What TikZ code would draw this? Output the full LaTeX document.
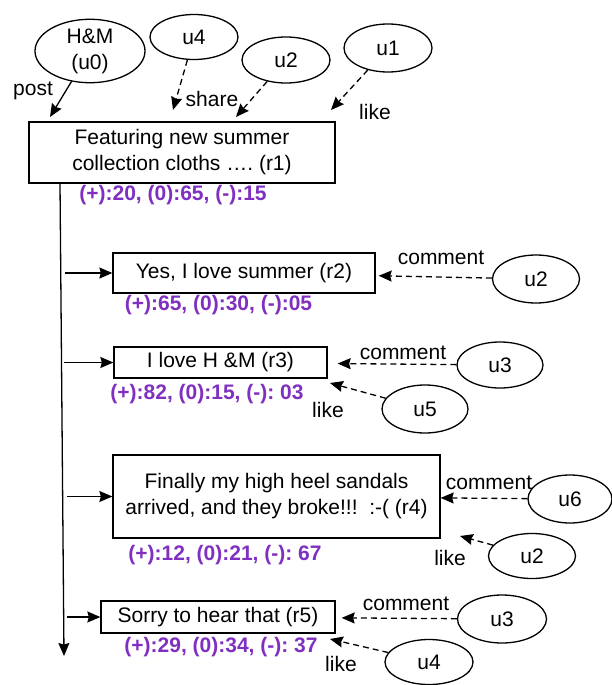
\documentclass[tikz,border=0pt]{standalone}
\usepackage{fontspec}
\setmainfont{Liberation Sans}
\usetikzlibrary{shapes.geometric,arrows.meta,calc}
\definecolor{scorepurple}{RGB}{128,48,192}
\begin{document}
\frenchspacing
\begin{tikzpicture}[x=1pt,y=-1pt,
  every node/.style={font=\fontsize{21}{26}\selectfont\frenchspacing, inner sep=0pt},
  userell/.style={draw, ellipse, line width=1.3pt, align=center},
  postbox/.style={draw, rectangle, line width=1.3pt, align=center},
  score/.style={text=scorepurple, font=\fontsize{21}{26}\selectfont\bfseries\frenchspacing},
  solidarrow/.style={line width=1.3pt, -{Stealth[length=13pt,width=11pt,inset=1.5pt]}},
  dasharrow/.style={solidarrow, dash pattern=on 6pt off 4pt},
]
\useasboundingbox (0,0) rectangle (611,685);

% users at top
\node[userell, minimum width=110pt, minimum height=62pt] (u0) at (90,51) {H\&M\\(u0)};
\node[userell, minimum width=88pt, minimum height=45pt] (u4t) at (194,37) {u4};
\node[userell, minimum width=88pt, minimum height=46pt] (u2t) at (286,60) {u2};
\node[userell, minimum width=88pt, minimum height=48pt] (u1) at (388,48) {u1};

% posts
\node[postbox, minimum width=306pt, minimum height=61pt] (r1) at (182,152.5) {Featuring new summer\\collection cloths …. (r1)};
\node[postbox, minimum width=262pt, minimum height=40pt] (r2) at (244,273) {Yes, I love summer (r2)};
\node[postbox, minimum width=213pt, minimum height=31pt] (r3) at (220.5,362.5) {I love H \&M (r3)};
\node[postbox, minimum width=327pt, minimum height=83pt] (r4) at (276.5,496.5) {Finally my high heel sandals\\arrived, and they broke!!!\ \ :-( (r4)};
\node[postbox, minimum width=234pt, minimum height=32pt] (r5) at (218,617) {Sorry to hear that (r5)};

% scores
\node[score] (s1) at (173,195) {(+):20, (0):65, (-):15};
\node[score] (s2) at (218.5,305) {(+):65, (0):30, (-):05};
\node[score] (s3) at (207,394) {(+):82, (0):15, (-): 03};
\node[score] (s4) at (225,555) {(+):12, (0):21, (-): 67};
\node[score] (s5) at (221,647) {(+):29, (0):34, (-): 37};

% right-hand users
\node[userell, minimum width=87pt, minimum height=48pt] (u2r) at (536,279) {u2};
\node[userell, minimum width=86pt, minimum height=46pt] (u3a) at (500,365) {u3};
\node[userell, minimum width=86pt, minimum height=48pt] (u5) at (425,409) {u5};
\node[userell, minimum width=84pt, minimum height=48pt] (u6) at (570,499) {u6};
\node[userell, minimum width=87pt, minimum height=45pt] (u2b) at (532,556) {u2};
\node[userell, minimum width=89pt, minimum height=48pt] (u3b) at (502,619) {u3};
\node[userell, minimum width=88pt, minimum height=45pt] (u4b) at (429,662) {u4};

% labels
\node (lpost) at (33,91) {post};
\node (lshare) at (212,99) {share};
\node (llike1) at (375,112) {like};
\node (lcom2) at (441,258) {comment};
\node (lcom3) at (403,353) {comment};
\node (llike3) at (328,410) {like};
\node (lcom4) at (489,483) {comment};
\node (llike4) at (450,558) {like};
\node (lcom5) at (406,604) {comment};
\node (llike5) at (341,664) {like};

% coordinates
\coordinate (tpost) at (50,117);
\coordinate (tshare) at (173,110);
\coordinate (tu2) at (236,117);
\coordinate (tlike) at (331,110);
\coordinate (m0) at (60,183);
\coordinate (m1) at (64,656);
\coordinate (b2) at (65,273);
\coordinate (b3) at (64,362.5);
\coordinate (b4) at (67,496.5);
\coordinate (b5) at (67,617);
\coordinate (tl3) at (330,383);
\coordinate (tl4) at (460,536);
\coordinate (tl5) at (330,639);

% top connectors
\draw[solidarrow] (u0) -- (tpost);
\draw[dasharrow] (u4t) -- (tshare);
\draw[dasharrow] (u2t) -- (tu2);
\draw[dasharrow] (u1) -- (tlike);

% timeline
\draw[solidarrow] (m0) -- (m1);
\draw[solidarrow] (b2) -- (r2);
\draw[solidarrow] (b3) -- (r3);
\draw[solidarrow] (b4) -- (r4);
\draw[solidarrow] (b5) -- (r5);

% comments and likes
\draw[dasharrow, shorten >=3pt] (u2r) -- (r2);
\draw[dasharrow, shorten >=10pt] (u3a) -- (r3);
\draw[dasharrow] (u5) -- (tl3);
\draw[dasharrow] (u6) -- (r4);
\draw[dasharrow] (u2b) -- (tl4);
\draw[dasharrow, shorten >=6pt] (u3b) -- (r5);
\draw[dasharrow] (u4b) -- (tl5);
\end{tikzpicture}
\end{document}
